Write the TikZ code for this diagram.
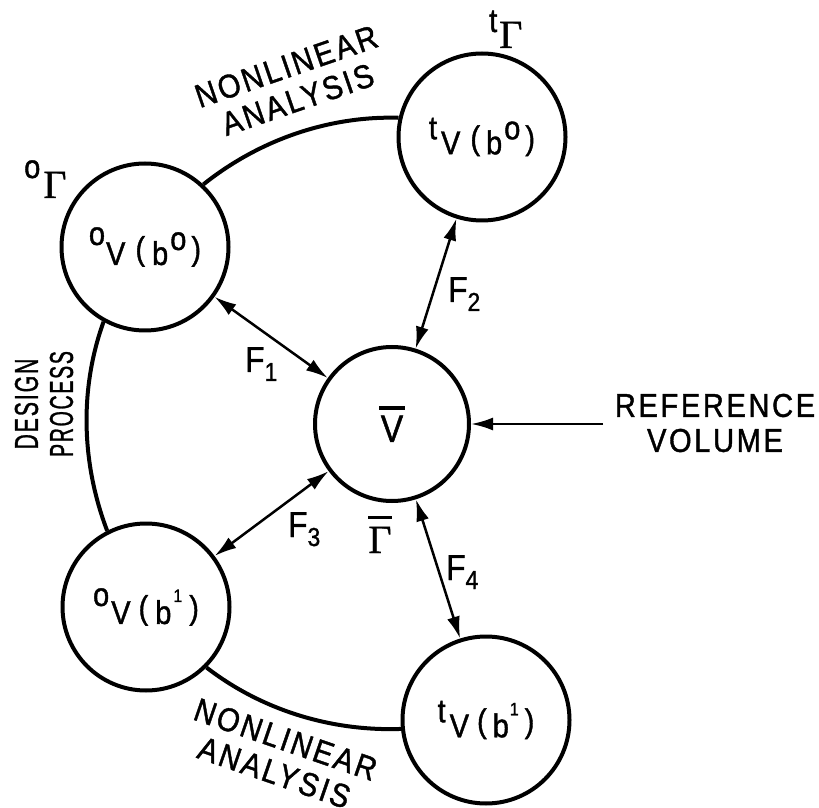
\documentclass[tikz,border=0pt]{standalone}
\usepackage{fontspec}
\setmainfont{Liberation Sans}[FakeBold=1.2, FakeStretch=0.88]
\newfontfamily\gamfont{Liberation Serif}[FakeBold=1]
\usetikzlibrary{arrows.meta}
\newcommand\upby[2]{\raisebox{#1}{#2}}
\newcommand\myLP{\raisebox{5pt}{(}}
\newcommand\myRP{\raisebox{5pt}{)}}
\newcommand\smallone{\fontsize{18}{18}\selectfont 1}
\newcommand\Fsub[1]{F\raisebox{-9pt}{\fontsize{26}{26}\selectfont #1}}
\newcommand\bigGam{{\gamfont\fontsize{40}{40}\selectfont Γ}}
\tikzset{
  vol/.style={circle, draw, line width=4pt, minimum size=167pt, inner sep=0pt,
              font=\fontsize{33}{33}\selectfont},
  link/.style={{Latex[length=22pt,width=13pt]}-{Latex[length=22pt,width=13pt]}, line width=2.5pt},
  arcline/.style={line width=4pt},
  lbl/.style={inner sep=0pt, align=center,
              font=\fontsize{33}{35}\selectfont\addfontfeature{LetterSpace=8}},
  flbl/.style={anchor=base west, inner sep=0pt, font=\fontsize{36}{36}\selectfont},
  glbl/.style={anchor=base west, inner sep=0pt, font=\fontsize{33}{33}\selectfont}
}
\begin{document}
\begin{tikzpicture}[x=1pt,y=1pt]
\useasboundingbox (0,0) rectangle (819,807);
\fill[white] (0,0) rectangle (819,807);

% volumes
\node[vol, minimum size=154pt, font=\fontsize{38}{38}\selectfont] (c) at (392,383)
  {\vbox{\hrule width 26pt height 3.5pt\kern6pt\hbox to 26pt{\hss V\hss}}};
\node[vol] (tl) at (145,560)
  {\upby{20pt}{o}\hspace{1pt}V\hspace{10pt}\myLP\hspace{7pt}b\hspace{2pt}\upby{15pt}{o}\hspace{5pt}\myRP};
\node[vol] (tr) at (482,670)
  {\upby{15pt}{t}\hspace{4pt}V\hspace{10pt}\myLP\hspace{6pt}b\hspace{2pt}\upby{15pt}{o}\hspace{5pt}\myRP};
\node[vol] (bl) at (146,200)
  {\upby{18pt}{o}\hspace{2pt}V\hspace{8pt}\myLP\hspace{7pt}b\hspace{2pt}\upby{22pt}{\smallone}\hspace{7pt}\myRP};
\node[vol] (br) at (486,87)
  {\upby{15pt}{t}\hspace{4pt}V\hspace{8pt}\myLP\hspace{6pt}b\hspace{1pt}\upby{22pt}{\smallone}\hspace{6pt}\myRP};

% process arcs (circular arcs about the reference volume)
\draw[arcline] (tl.47.3) to[out=38.6, in=178.4, looseness=0.879] (tr.167.6);
\draw[arcline] (bl.117.7) to[out=110.9, in=250.2, looseness=0.879] (tl.241.5);
\draw[arcline] (br.186.0) to[out=182, in=322.3, looseness=0.878] (bl.315.6);

% mappings
\draw[link] (tl) -- (c);
\draw[link] (tr) -- (c);
\draw[link] (bl) -- (c);
\draw[link] (br) -- (c);

% reference volume
\coordinate (rv) at (603,383);
\draw[line width=2.5pt, -{Latex[length=22pt,width=13pt]}] (rv) -- (c);
\node[lbl] (reftxt) at (715,384) {REFERENCE\\VOLUME};

% process labels
\node[lbl, rotate=19] (na1) at (292,724) {NONLINEAR\\ANALYSIS};
\node[lbl, rotate=90] (dp) at (44,403) {\scalebox{0.73}[1]{DESIGN}\\\scalebox{0.67}[1]{PROCESS}};
\node[lbl, rotate=-19] (na2) at (280,51) {NONLINEAR\\ANALYSIS};

% F labels
\node[flbl] (f1) at (245,435) {\Fsub{1}};
\node[flbl] (f2) at (448,505) {\Fsub{2}};
\node[flbl] (f3) at (288,270) {\Fsub{3}};
\node[flbl] (f4) at (446,227) {\Fsub{4}};

% boundary labels
\node[glbl] (g0) at (24,609) {\upby{20pt}{o}\hspace{3pt}\bigGam};
\node[glbl] (gt) at (489,759) {\upby{16pt}{t}\hspace{2pt}\bigGam};
\node[anchor=base, inner sep=0pt] (gb) at (380,254)
  {\vbox{\hrule width 24pt height 3pt\kern8pt\hbox to 24pt{\hss\bigGam\hss}}};
\end{tikzpicture}
\end{document}
